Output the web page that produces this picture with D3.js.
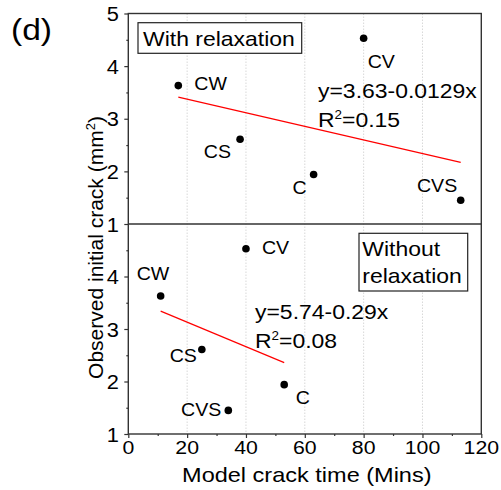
<!DOCTYPE html>
<html><head><meta charset="utf-8">
<script src="https://cdn.jsdelivr.net/npm/d3@7"></script>
<style>body{margin:0;background:#fff}svg{display:block}text{font-family:"Liberation Sans",Arial,sans-serif;fill:#000}</style>
</head><body>
<script>
// ---- data ----
const xTicks = [0, 20, 40, 60, 80, 100, 120];
const xMinorTicks = [10, 30, 50, 70, 90, 110];
const yTicksTop = [1, 2, 3, 4, 5];
const yTicksBottom = [1, 2, 3, 4];
const yMinorTicks = [1.5, 2.5, 3.5, 4.5];

const samples = ["CW", "CS", "C", "CV", "CVS"];
const crackArea = [3.63, 2.61, 1.94, 4.53, 1.45];          // observed initial crack (mm2)
const timeWithRelax = [17, 38, 63, 80, 113];              // model crack time, with relaxation
const timeWithoutRelax = [11, 25, 53, 40, 34];            // model crack time, without relaxation

const fitTopX = [17, 113];
const fitTopY = [3.63 - 0.0129 * 17, 3.63 - 0.0129 * 113];
const fitBottomX = [11, 53];
const fitBottomY = [3.34, 2.36];

const eqTop = ["y=3.63-0.0129x", "0.15"];
const eqBottom = ["y=5.74-0.29x", "0.08"];

// ---- layout ----
const W = 501, H = 490;
const L = 128.3, R = 481.3, T = 13.5, M = 224, B = 434;
const S = 1.12; // horizontal stretch of text
const labelOffTop = [[16, 4, "start"], [-9, 19, "end"], [-7, 19.5, "end"], [4, 29.5, "start"], [-3.5, -8.6, "end"]];
const labelOffBottom = [[-24, -16, "start"], [-5, 12.2, "end"], [11.5, 19.6, "start"], [16, 5.6, "start"], [-7, 5.6, "end"]];

const svg = d3.select("body").append("svg").attr("width", W).attr("height", H);

const x = d3.scaleLinear().domain([0, 120]).range([L, R]);
const yTop = d3.scaleLinear().domain([1, 5]).range([M, T]);
const yBot = d3.scaleLinear().domain([1, 5]).range([B, M]);

function txt(g, s, px, py, size, anchor) {
  return g.append("text")
    .attr("transform", `translate(${px},${py}) scale(${S},1)`)
    .attr("font-size", size).attr("text-anchor", anchor || "start").text(s);
}

// grid
svg.append("g").selectAll("line").data(xTicks.slice(1, -1)).join("line")
  .attr("x1", d => x(d)).attr("x2", d => x(d)).attr("y1", T).attr("y2", B)
  .attr("stroke", "#d8d8d8").attr("stroke-width", 1).attr("stroke-dasharray", "1.5,1.5");

// axes
function styleAxis(g) {
  g.select(".domain").remove();
  g.selectAll(".tick line").attr("stroke", "#333").attr("stroke-width", 1.2);
}
svg.append("g").attr("transform", `translate(0,${B})`)
  .call(d3.axisBottom(x).tickValues(xTicks).tickSize(4).tickFormat("")).call(styleAxis);
svg.append("g").attr("transform", `translate(0,${B})`)
  .call(d3.axisBottom(x).tickValues(xMinorTicks).tickSize(2).tickFormat("")).call(styleAxis);
xTicks.forEach(v => txt(svg, String(v), x(v), 454, 19, "middle"));

[[yTop, yTicksTop], [yBot, yTicksBottom]].forEach(([ys, tv]) => {
  svg.append("g").attr("transform", `translate(${L},0)`)
    .call(d3.axisLeft(ys).tickValues(tv).tickSize(4).tickFormat("")).call(styleAxis);
  svg.append("g").attr("transform", `translate(${L},0)`)
    .call(d3.axisLeft(ys).tickValues(yMinorTicks).tickSize(2).tickFormat("")).call(styleAxis);
  tv.forEach(v => txt(svg, String(v), 119, ys(v) + 7.5, 19.5, "end"));
});

// frame
const frame = svg.append("g").attr("stroke", "#333").attr("stroke-width", 1.4).attr("fill", "none");
frame.append("rect").attr("x", L).attr("y", T).attr("width", R - L).attr("height", B - T);
frame.append("line").attr("x1", L).attr("x2", R).attr("y1", M).attr("y2", M);

// fits
const line = d3.line();
svg.append("path").attr("d", line(fitTopX.map((v, i) => [x(v), yTop(fitTopY[i])])))
  .attr("stroke", "#ff0000").attr("stroke-width", 1.2).attr("fill", "none");
svg.append("path").attr("d", line(fitBottomX.map((v, i) => [x(v), yBot(fitBottomY[i])])))
  .attr("stroke", "#ff0000").attr("stroke-width", 1.2).attr("fill", "none");

// points
function drawPoints(times, ys, offs) {
  const g = svg.append("g");
  samples.forEach((s, i) => {
    const px = x(times[i]), py = ys(crackArea[i]);
    g.append("circle").attr("cx", px).attr("cy", py).attr("r", 3.8).attr("fill", "#000");
    txt(g, s, px + offs[i][0], py + offs[i][1], 17.5, offs[i][2]);
  });
}
drawPoints(timeWithRelax, yTop, labelOffTop);
drawPoints(timeWithoutRelax, yBot, labelOffBottom);

// equations
function eq(e, px, py1, py2) {
  txt(svg, e[0], px, py1, 20.5);
  const t = svg.append("text").attr("transform", `translate(${px},${py2}) scale(${S},1)`).attr("font-size", 20.5);
  t.append("tspan").text("R");
  t.append("tspan").attr("font-size", 12).attr("dy", -8).text("2");
  t.append("tspan").attr("dy", 8).text("=" + e[1]);
}
eq(eqTop, 318, 98.3, 126.7);
eq(eqBottom, 255, 319.3, 348.3);

// boxes
svg.append("rect").attr("x", 138).attr("y", 22.7).attr("width", 163.7).attr("height", 30.6)
  .attr("fill", "#fff").attr("stroke", "#222").attr("stroke-width", 1.2);
txt(svg, "With relaxation", 143, 45.5, 20.5);
svg.append("rect").attr("x", 359).attr("y", 233.3).attr("width", 108.7).attr("height", 57.7)
  .attr("fill", "#fff").attr("stroke", "#222").attr("stroke-width", 1.2);
txt(svg, "Without", 362.3, 256, 20.5);
txt(svg, "relaxation", 362.3, 283.3, 20.5);

// titles
txt(svg, "Model crack time (Mins)", (L + R) / 2 + 2, 482, 21, "middle");
const yt = svg.append("text").attr("transform", `translate(103,247.5) rotate(-90)`)
  .attr("font-size", 21).attr("text-anchor", "middle");
yt.append("tspan").text("Observed initial crack (mm");
yt.append("tspan").attr("font-size", 13).attr("dy", -8).text("2");
yt.append("tspan").attr("dy", 8).text(")");
txt(svg, "(d)", 11, 40, 30);
</script>
</body></html>
